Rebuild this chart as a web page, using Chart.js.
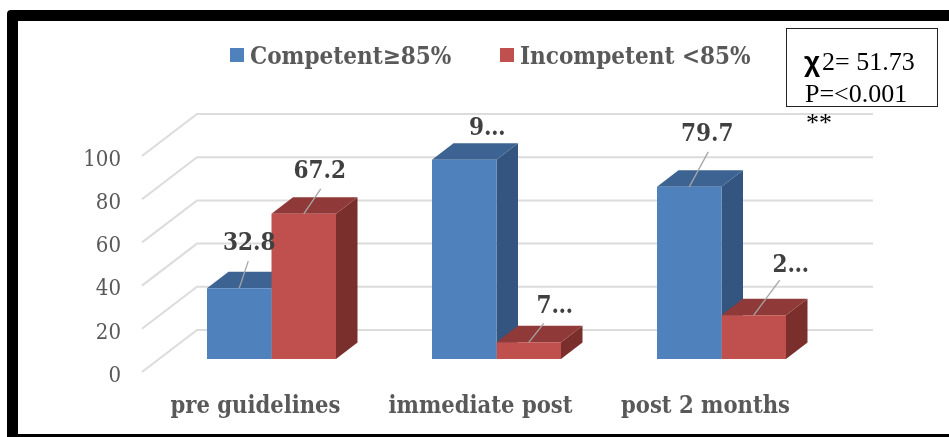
<!DOCTYPE html>
<html>
<head>
<meta charset="utf-8">
<style>html,body{margin:0;padding:0;background:#fff}canvas{display:block}</style>
<script src="https://cdn.jsdelivr.net/npm/chart.js@4"></script>
</head>
<body>
<canvas id="c" width="949" height="437"></canvas>
<script>
const categories = ["pre guidelines", "immediate post", "post 2 months"];
const seriesNames = ["Competent\u226585%", "Incompetent <85%"];
const competent = [32.8, 92.3, 79.7];
const incompetent = [67.2, 7.7, 20.3];
const competentLabels = ["32.8", "9\u2026", "79.7"];
const incompetentLabels = ["67.2", "7\u2026", "2\u2026"];
const yTicks = [0, 20, 40, 60, 80, 100];
const noteLine1 = "2= 51.73";
const noteChi = "\u03C7";
const noteLine2 = "P=<0.001";
const noteStars = "**";

const SERIF = '"DejaVu Serif Condensed","DejaVu Serif",serif';
const TIMES = '"Liberation Serif",serif';
const DEPTH = {x: 21.5, y: 16.5};
const FACES = [
  {front: "#4F81BD", top: "#3C6391", side: "#335580"},
  {front: "#C0504D", top: "#8F3A38", side: "#7A2F2D"}
];
// label anchor: text centre and leader end, relative to the bar's top-centre
const LABEL_STYLE = [
  [{tx: 10, ty: -44, lx: 9, ly: -27}, {tx: 23, ty: -30.5, lx: null}, {tx: 18, ty: -52, lx: 19, ly: -35}],
  [{tx: 16, ty: -42, lx: 17, ly: -25}, {tx: 26, ty: -36, lx: 15, ly: -19}, {tx: 37, ty: -49, lx: 26, ly: -35}]
];
const labelSets = [competentLabels, incompetentLabels];

const scene = {
  id: "scene",
  beforeDraw(chart) {
    const c = chart.ctx;
    c.save();
    c.fillStyle = "#fff";
    c.fillRect(0, 0, 949, 437);
    c.fillStyle = "#000";
    c.beginPath();
    c.roundRect(7, 10, 1000, 500, 4);
    c.fill();
    c.fillStyle = "#fff";
    c.fillRect(18, 21, 1000, 413);
    // walls
    const y = chart.scales.y;
    c.strokeStyle = "#DCDCDC";
    c.lineWidth = 2;
    yTicks.forEach(v => {
      const p = y.getPixelForValue(v);
      c.beginPath();
      c.moveTo(142, p + 13);
      c.lineTo(197, p - 29);
      c.lineTo(873, p - 29);
      c.stroke();
    });
    c.restore();
  },
  beforeDatasetsDraw(chart) {
    const c = chart.ctx;
    c.save();
    [0, 1].forEach(i => {
      const f = FACES[i];
      chart.getDatasetMeta(i).data.forEach(b => {
        const l = b.x - b.width / 2, r = b.x + b.width / 2, t = b.y, bt = b.base;
        c.fillStyle = f.side;
        c.beginPath();
        c.moveTo(r, t); c.lineTo(r + DEPTH.x, t - DEPTH.y);
        c.lineTo(r + DEPTH.x, bt - DEPTH.y); c.lineTo(r, bt);
        c.closePath(); c.fill();
        c.fillStyle = f.top;
        c.beginPath();
        c.moveTo(l, t); c.lineTo(l + DEPTH.x, t - DEPTH.y);
        c.lineTo(r + DEPTH.x, t - DEPTH.y); c.lineTo(r, t);
        c.closePath(); c.fill();
      });
    });
    c.restore();
  },
  afterDatasetsDraw(chart) {
    const c = chart.ctx;
    c.save();
    // data labels + leaders
    [0, 1].forEach(i => {
      chart.getDatasetMeta(i).data.forEach((b, j) => {
        const s = LABEL_STYLE[i][j];
        if (s.lx !== null) {
          c.strokeStyle = "#A6A6A6";
          c.lineWidth = 1.3;
          c.beginPath();
          c.moveTo(b.x, b.y);
          c.lineTo(b.x + s.lx, b.y + s.ly);
          c.stroke();
        }
        c.fillStyle = "#404040";
        c.font = "bold 24px " + SERIF;
        c.textAlign = "center";
        c.textBaseline = "middle";
        c.fillText(labelSets[i][j], b.x + s.tx, b.y + s.ty);
      });
    });
    // legend
    const items = [{x: 230, tx: 250}, {x: 500, tx: 520}];
    items.forEach((it, i) => {
      c.fillStyle = FACES[i].front;
      c.fillRect(it.x, 48, 14, 14);
      c.fillStyle = "#595959";
      c.font = "bold 24px " + SERIF;
      c.textAlign = "left";
      c.textBaseline = "middle";
      c.fillText(seriesNames[i], it.tx, 58);
    });
    // note box
    c.fillStyle = "#fff";
    c.fillRect(786, 28, 151, 79);
    c.strokeStyle = "#222";
    c.lineWidth = 1;
    c.strokeRect(786.5, 28.5, 151, 78);
    c.fillStyle = "#000";
    c.textAlign = "left";
    c.textBaseline = "alphabetic";
    c.font = "26px " + TIMES;
    c.fillText(noteLine1, 822, 70);
    c.fillText(noteLine2, 805, 102);
    c.fillText(noteStars, 806, 131);
    c.font = "bold 28px 'Liberation Sans',sans-serif";
    c.fillText(noteChi, 804, 71);
    c.restore();
  }
};

new Chart(document.getElementById("c"), {
  type: "bar",
  data: {
    labels: categories,
    datasets: [
      {label: seriesNames[0], data: competent, backgroundColor: FACES[0].front, barPercentage: 1, categoryPercentage: 0.5733},
      {label: seriesNames[1], data: incompetent, backgroundColor: FACES[1].front, barPercentage: 1, categoryPercentage: 0.5733}
    ]
  },
  options: {
    responsive: false,
    animation: false,
    devicePixelRatio: 1,
    layout: {padding: {top: 143, right: 115, left: 0, bottom: 0}},
    plugins: {legend: {display: false}, tooltip: {enabled: false}},
    scales: {
      x: {
        grid: {display: false},
        border: {display: false},
        afterFit(s) { s.height = 78; },
        ticks: {
          color: "#595959",
          font: {family: SERIF, size: 23.5, weight: "bold"},
          padding: 26,
          labelOffset: -16,
          maxRotation: 0,
          autoSkip: false
        }
      },
      y: {
        min: 0,
        max: 100,
        afterFit(s) { s.width = 159; },
        afterBuildTicks(s) { s.ticks = yTicks.map(v => ({value: v})); },
        grid: {display: false},
        border: {display: false},
        ticks: {
          color: "#595959",
          font: {family: SERIF, size: 22},
          padding: 30,
          labelOffset: 17
        }
      }
    }
  },
  plugins: [scene]
});
</script>
</body>
</html>
